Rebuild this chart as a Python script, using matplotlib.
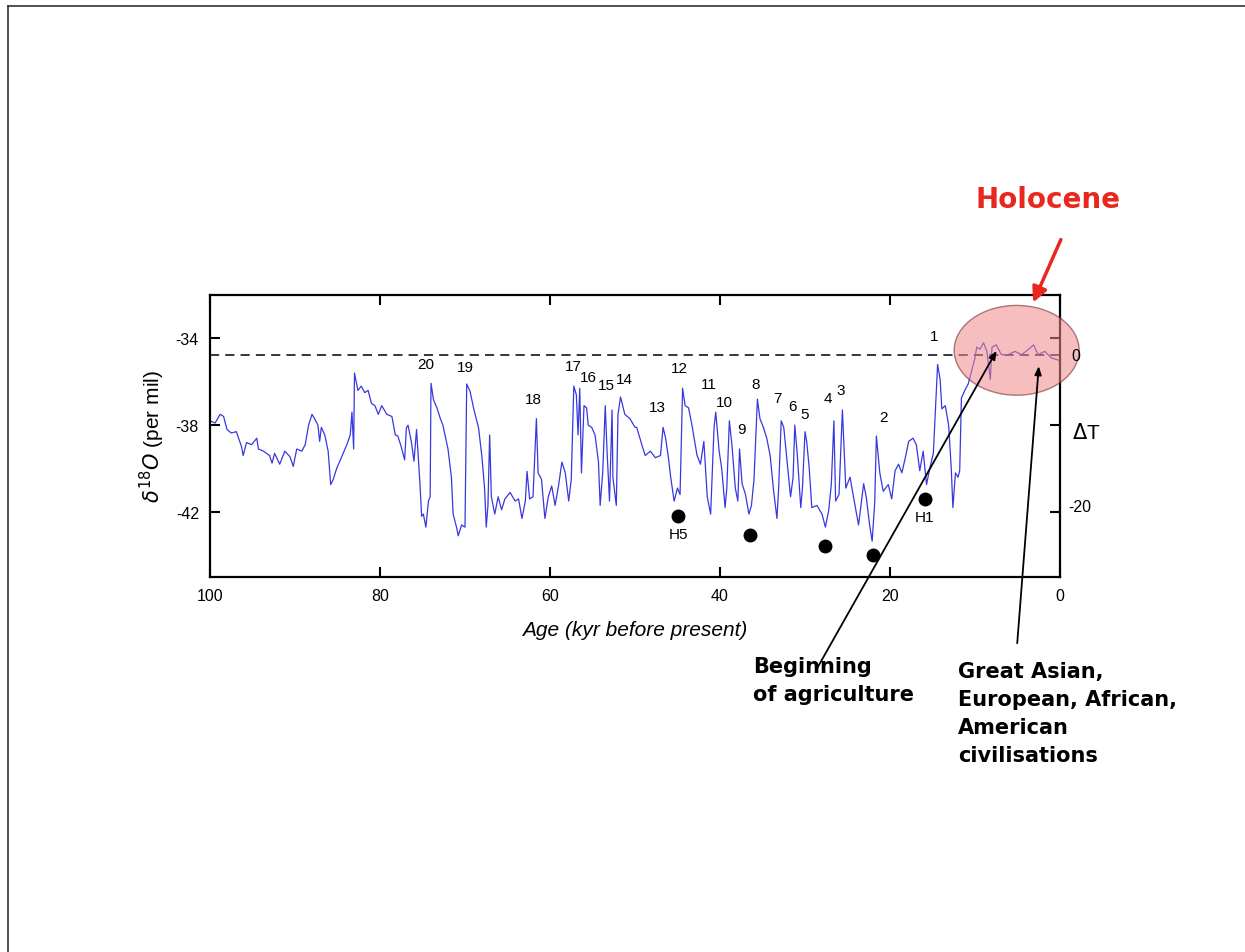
import matplotlib
matplotlib.use('Agg')
import matplotlib.pyplot as plt
from matplotlib.patches import Ellipse
from matplotlib.lines import Line2D

# --- data (age in kyr BP, delta18O in per mil) ---
age = [100.0, 99.4, 98.8, 98.4, 98.0, 97.5, 96.9, 96.3, 96.1, 95.7, 95.1, 94.5, 94.3,
       93.7, 93.0, 92.7, 92.4, 91.8, 91.2, 90.6, 90.2, 89.8, 89.2, 88.8, 88.4, 88.0,
       87.7, 87.3, 87.1, 86.9, 86.5, 86.1, 85.8, 85.5, 85.1, 84.5, 83.9, 83.5, 83.3,
       83.1, 83.0, 82.6, 82.2, 81.8, 81.4, 81.0, 80.6, 80.2, 79.8, 79.2, 78.6, 78.2,
       77.9, 77.5, 77.1, 76.9, 76.7, 76.3, 76.0, 75.7, 75.3, 75.1, 74.9, 74.6, 74.3,
       74.1, 74.0, 73.7, 73.3, 72.9, 72.6, 72.0, 71.6, 71.4, 71.0, 70.8, 70.4, 70.0,
       69.8, 69.4, 69.0, 68.4, 68.0, 67.7, 67.5, 67.3, 67.1, 66.9, 66.5, 66.1, 65.7,
       65.3, 64.7, 64.1, 63.7, 63.3, 62.9, 62.7, 62.4, 62.0, 61.8, 61.6, 61.4, 61.0,
       60.6, 60.2, 59.8, 59.4, 59.0, 58.6, 58.2, 57.8, 57.5, 57.2, 56.9, 56.7, 56.5,
       56.3, 56.0, 55.7, 55.5, 55.1, 54.7, 54.3, 54.1, 53.8, 53.5, 53.3, 53.0, 52.7,
       52.6, 52.2, 52.0, 51.7, 51.2, 50.6, 50.0, 49.8, 49.2, 48.8, 48.2, 47.6, 47.0,
       46.7, 46.4, 46.1, 45.8, 45.4, 45.0, 44.7, 44.4, 44.1, 43.7, 43.3, 42.7, 42.3,
       41.9, 41.5, 41.1, 40.7, 40.5, 40.1, 39.8, 39.4, 39.2, 38.9, 38.6, 38.2, 37.9,
       37.7, 37.4, 37.0, 36.6, 36.3, 36.0, 35.6, 35.3, 34.9, 34.5, 34.1, 33.7, 33.3,
       33.1, 32.8, 32.5, 32.1, 31.7, 31.4, 31.2, 30.9, 30.5, 30.3, 30.0, 29.8, 29.5,
       29.2, 28.6, 28.0, 27.6, 27.2, 26.9, 26.6, 26.4, 26.0, 25.6, 25.2, 24.7, 24.3,
       23.7, 23.1, 22.8, 22.4, 22.1, 21.8, 21.6, 21.2, 20.8, 20.2, 19.8, 19.4, 19.0,
       18.6, 18.2, 17.8, 17.3, 16.9, 16.5, 16.1, 15.7, 15.3, 14.9, 14.6, 14.4, 14.1,
       13.9, 13.5, 13.1, 12.8, 12.6, 12.3, 12.0, 11.8, 11.6, 11.2, 10.8, 10.4, 10.0,
       9.8, 9.4, 9.0, 8.6, 8.2, 8.0, 7.5, 6.9, 6.1, 5.3, 4.5, 3.7, 3.1, 2.6, 1.8,
       1.0, 0.2]
d18o = [-37.8, -37.9, -37.5, -37.6, -38.2, -38.36, -38.3, -38.98, -39.4, -38.8, -38.9,
        -38.6, -39.1, -39.2, -39.4, -39.75, -39.3, -39.8, -39.2, -39.45, -39.9, -39.1,
        -39.2, -38.9, -38.0, -37.5, -37.7, -38.0, -38.75, -38.1, -38.45, -39.2, -40.74,
        -40.5, -40.0, -39.45, -38.9, -38.45, -37.4, -39.1, -35.6, -36.4, -36.2, -36.5,
        -36.4, -37.0, -37.1, -37.5, -37.1, -37.5, -37.6, -38.45, -38.5, -39.0, -39.6,
        -38.14, -38.0, -38.8, -39.66, -38.2, -40.7, -42.2, -42.1, -42.7, -41.5, -41.3,
        -36.07, -36.84, -37.2, -37.7, -38.0, -39.1, -40.4, -42.1, -42.7, -43.1, -42.6,
        -42.7, -36.1, -36.45, -37.2, -38.14, -39.5, -40.9, -42.7, -41.7, -38.45, -41.3,
        -42.1, -41.3, -41.9, -41.4, -41.1, -41.5, -41.4, -42.3, -41.5, -40.13, -41.4,
        -41.3, -39.5, -37.7, -40.2, -40.5, -42.3, -41.3, -40.8, -41.7, -40.8, -39.7,
        -40.2, -41.5, -40.5, -36.2, -36.6, -38.45, -36.3, -40.2, -37.1, -37.2, -38.0,
        -38.1, -38.45, -39.7, -41.7, -40.2, -37.1, -39.1, -41.5, -37.3, -40.4, -41.7,
        -37.5, -36.7, -37.5, -37.7, -38.1, -38.1, -38.9, -39.4, -39.2, -39.5, -39.4,
        -38.1, -38.6, -39.4, -40.4, -41.5, -40.9, -41.2, -36.3, -37.1, -37.2, -38.0,
        -39.4, -39.8, -38.75, -41.3, -42.1, -38.1, -37.4, -39.2, -40.0, -41.8, -40.9,
        -37.8, -38.9, -40.9, -41.5, -39.1, -40.7, -41.2, -42.1, -41.7, -40.5, -36.8,
        -37.7, -38.1, -38.6, -39.4, -41.0, -42.3, -40.9, -37.8, -38.1, -39.7, -41.3,
        -40.4, -38.0, -39.4, -41.8, -40.9, -38.3, -38.75, -40.0, -41.8, -41.7, -42.1,
        -42.7, -41.9, -40.7, -37.8, -41.5, -41.2, -37.3, -40.9, -40.4, -41.3, -42.6,
        -40.7, -41.3, -42.6, -43.35, -41.6, -38.5, -40.2, -41.05, -40.74, -41.4, -40.1,
        -39.8, -40.2, -39.5, -38.75, -38.6, -38.9, -40.1, -39.2, -40.74, -39.95, -39.3,
        -36.9, -35.2, -35.9, -37.25, -37.1, -38.0, -39.95, -41.8, -40.2, -40.4, -40.1,
        -36.75, -36.4, -36.1, -35.5, -34.9, -34.4, -34.5, -34.2, -34.6, -35.9, -34.4,
        -34.3, -34.75, -34.75, -34.6, -34.75, -34.5, -34.3, -34.75, -34.6, -34.9, -35.0]

# Dansgaard-Oeschger interstadial numbers
event_labels = ['20', '19', '18', '17', '16', '15', '14', '13', '12', '11', '10',
                '9', '8', '7', '6', '5', '4', '3', '2', '1']
event_ages = [74.6, 69.9, 61.9, 57.2, 55.5, 53.4, 51.3, 47.4, 44.8, 41.3, 39.5,
              37.5, 35.8, 33.2, 31.5, 30.1, 27.3, 25.8, 20.8, 14.8]
event_vals = [-35.2, -35.33, -36.78, -35.29, -35.79, -36.16, -35.89, -37.17, -35.38,
              -36.11, -36.94, -38.18, -36.11, -36.76, -37.13, -37.5, -36.76, -36.39,
              -37.63, -33.91]

# Heinrich events (dots)
heinrich_ages = [44.9, 36.5, 27.6, 22.0, 15.9]
heinrich_vals = [-42.18, -43.06, -43.56, -43.98, -41.4]
heinrich_labels = ['H5', '', '', '', 'H1']

holocene_level = -34.78

W, H = 1245, 953
plt.rcParams['axes.unicode_minus'] = False
plt.rcParams['font.family'] = ['Liberation Sans', 'DejaVu Sans']
fig = plt.figure(figsize=(W / 100, H / 100), dpi=100)


def fp(x, y):
    return (x / W, 1 - y / H)


ax = fig.add_axes([210 / W, 1 - 578 / H, 850 / W, 282 / H])
ax.plot(age, d18o, color='#3838e0', lw=0.9, zorder=2)
ax.axhline(holocene_level, color='black', lw=1.1, ls=(0, (6, 4)), zorder=1)
ax.set_xlim(100, 0)
ax.set_ylim(-45, -32)
ax.set_xticks([100, 80, 60, 40, 20, 0])
ax.set_yticks([-34, -38, -42])
ax.tick_params(direction='in', length=7, width=1.5, top=True, right=True,
               labelsize=11.5, pad=8)
for s in ax.spines.values():
    s.set_linewidth(1.6)
ax.set_xlabel('Age (kyr before present)', fontsize=15, style='italic', labelpad=12)
ax.set_ylabel(r'$\delta^{18}O$ (per mil)', fontsize=15, labelpad=6)

for lab, a, v in zip(event_labels, event_ages, event_vals):
    ax.text(a, v, lab, ha='center', va='center', fontsize=11)

ax.plot(heinrich_ages, heinrich_vals, 'o', color='black', ms=9, zorder=4)
for lab, a, v in zip(heinrich_labels, heinrich_ages, heinrich_vals):
    if lab:
        ax.text(a, v - 0.85, lab, ha='center', va='center', fontsize=11)

# Holocene ellipse
ell = Ellipse((5.1, -34.55), width=14.7, height=4.14, facecolor='#f08a8a', alpha=0.55,
              edgecolor='#6a2020', lw=1.0, zorder=3, clip_on=False)
ax.add_patch(ell)

# right-side labels
fig.text(*fp(1076, 357), '0', ha='center', va='center', fontsize=11.5)
fig.text(*fp(1086, 433), r'$\Delta$T', ha='center', va='center', fontsize=15)
fig.text(*fp(1080, 508), '-20', ha='center', va='center', fontsize=11.5)

# annotations
bold = ['DejaVu Sans']
fig.text(*fp(1048, 200), 'Holocene', color='#e8281e', fontsize=20, fontweight='bold',
         ha='center', va='center', family=bold)
ax.annotate('', xy=fp(1032, 306), xycoords='figure fraction',
            xytext=fp(1062, 238), textcoords='figure fraction',
            arrowprops=dict(arrowstyle='-|>,head_length=0.9,head_width=0.45',
                            color='#e8281e', lw=2.5), annotation_clip=False)

fig.text(*fp(753, 681), 'Beginning\nof agriculture', fontsize=15, fontweight='bold',
         ha='left', va='center', linespacing=1.45, family=bold)
fig.text(*fp(958, 714), 'Great Asian,\nEuropean, African,\nAmerican\ncivilisations',
         fontsize=15, fontweight='bold', ha='left', va='center', linespacing=1.5,
         family=bold)

ax.annotate('', xy=(7.3, -34.46), xycoords='data',
            xytext=fp(815, 673), textcoords='figure fraction',
            arrowprops=dict(arrowstyle='-|>,head_length=0.5,head_width=0.2',
                            color='black', lw=1.3), annotation_clip=False, zorder=5)
ax.annotate('', xy=(2.47, -35.15), xycoords='data',
            xytext=fp(1017, 647), textcoords='figure fraction',
            arrowprops=dict(arrowstyle='-|>,head_length=0.5,head_width=0.2',
                            color='black', lw=1.3), annotation_clip=False, zorder=5)

# slide frame
fig.add_artist(Line2D([8 / W, 1], [1 - 7 / H, 1 - 7 / H], color='#333333', lw=1.2))
fig.add_artist(Line2D([8 / W, 8 / W], [0, 1 - 7 / H], color='#333333', lw=1.2))

fig.savefig('out.png', dpi=100)
